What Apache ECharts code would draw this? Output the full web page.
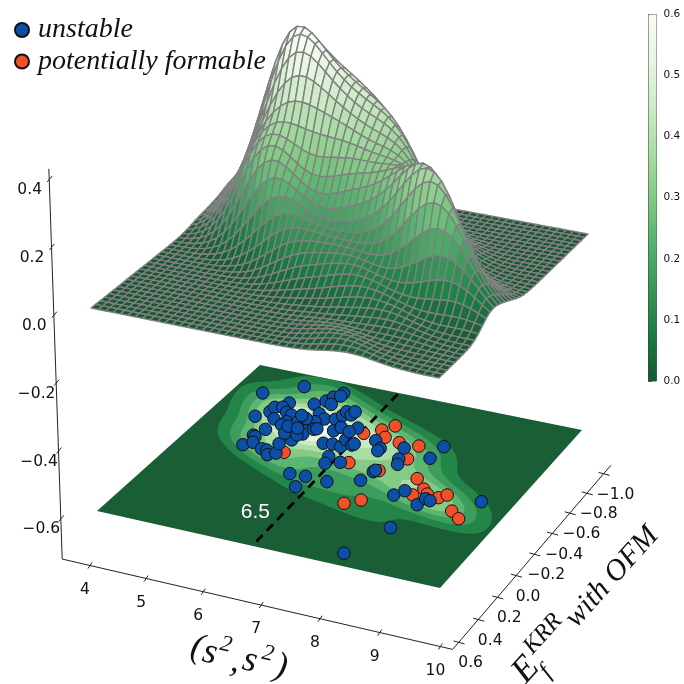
<!DOCTYPE html>
<html><head><meta charset="utf-8">
<script src="https://cdn.jsdelivr.net/npm/echarts@6/dist/echarts.min.js"></script>
<style>html,body{margin:0;background:#fff}#c{width:684px;height:684px}</style></head>
<body><div id="c"></div>
<script>
// Values: [x, y] in data units of the floor plane.
const unstable=[[4.42,-0.748],[4.95,-0.883],[4.69,-0.527],[4.84,-0.594],[4.84,-0.642],[4.99,-0.707],[4.96,-0.657],
[5.10,-0.620],[5.02,-0.538],[5.22,-0.604],[5.25,-0.536],[5.23,-0.499],[5.06,-0.431],[4.97,-0.360],
[5.02,-0.349],[4.97,-0.258],[5.08,-0.298],[5.31,-0.258],[5.41,-0.256],[5.49,-0.218],[5.59,-0.247],
[5.49,-0.332],[5.48,-0.447],[5.62,-0.387],[5.46,-0.491],[5.69,-0.459],[5.52,-0.558],[5.41,-0.433],
[5.62,-0.439],[5.39,-0.742],[5.52,-0.793],[5.57,-0.841],[5.66,-0.895],[5.66,-0.865],[5.65,-0.772],
[5.62,-0.667],[5.78,-0.629],[5.68,-0.589],[5.78,-0.519],[5.82,-0.530],[5.95,-0.647],[6.00,-0.692],
[6.00,-0.735],[6.10,-0.543],[6.16,-0.587],[6.14,-0.416],[6.29,-0.426],[6.45,-0.418],[6.42,-0.487],
[6.42,-0.314],[6.47,-0.249],[6.68,-0.284],[6.11,-0.100],[6.38,-0.105],[6.39,-0.002],[6.77,-0.099],
[6.12,-0.714],[6.13,-0.750],[6.42,-0.611],[6.35,-0.563],[6.59,-0.452],[6.61,-0.465],[7.24,-0.170],
[6.88,-0.533],[7.06,-0.475],[7.06,-0.450],[7.41,-0.521],[7.49,-0.417],[7.55,-0.369],[7.94,-0.479],
[7.98,-0.603],[7.30,-0.264],[7.31,-0.280],[7.93,-0.107],[8.03,-0.162],[8.40,-0.069],[8.44,-0.133],
[8.53,-0.124],[9.28,-0.206],[8.33,0.161],[8.02,0.440],
[5.35,-0.50],[5.42,-0.56],[5.50,-0.60],[5.38,-0.62],[5.52,-0.50]];
const formable=[[5.70,-0.268],[6.95,-0.697],[6.81,-0.637],[6.97,-0.579],[6.59,-0.575],[7.26,-0.558],[7.60,-0.564],
[7.62,-0.433],[6.81,-0.297],[7.37,-0.283],[8.04,-0.284],[8.28,-0.209],[8.40,-0.174],[8.20,-0.141],
[8.61,-0.164],[8.70,-0.201],[8.98,-0.078],[9.18,-0.028],[7.33,0.047],[7.53,-0.009]];
const xTicks=[4,5,6,7,8,9,10];
const yTicks=[0.6,0.4,0.2,0,-0.2,-0.4,-0.6,-0.8,-1.0];
const zTicks=[-0.6,-0.4,-0.2,0,0.2,0.4];
const contourLevels=[0.065,0.13,0.2,0.27,0.34,0.41,0.48,0.545];
const cutLabel='6.5';
const cutLine=[[6.63,0.50],[6.5,-1]];
const XR=[3.9,9.8],YR=[-1,0.54],FLOORZ=-0.6;

// The surface is a Gaussian KDE of the scatter points above, not a typed grid;
// bandwidth, amplitude and the class weight were tuned by eye to the reference surface.
const weightFormable=1.4;
const all=unstable.map(p=>[p[0],p[1],1]).concat(formable.map(p=>[p[0],p[1],weightFormable])),n=all.length;
const mx=all.reduce((s,p)=>s+p[0],0)/n,my=all.reduce((s,p)=>s+p[1],0)/n;
let cxx=0,cyy=0,cxy=0;all.forEach(p=>{cxx+=(p[0]-mx)**2;cyy+=(p[1]-my)**2;cxy+=(p[0]-mx)*(p[1]-my)});
cxx/=n-1;cyy/=n-1;cxy/=n-1;
const bw=0.98,amp=0.98,f2=Math.pow(n,-1/3)*bw*bw;
const sxx=cxx*f2,syy=cyy*f2,sxy=cxy*f2,det=sxx*syy-sxy*sxy;
const norm=amp/(2*Math.PI*Math.sqrt(det)*n);
function kde(x,y){let s=0;for(const p of all){const a=x-p[0],b=y-p[1];s+=p[2]*Math.exp(-0.5*(syy*a*a-2*sxy*a*b+sxx*b*b)/det)}return s*norm}

// Projection of the 3D box to the page
function homog(p){const [[x0,y0],[x1,y1],[x2,y2],[x3,y3]]=p;const dx1=x1-x2,dx2=x3-x2,sx=x0-x1+x2-x3,dy1=y1-y2,dy2=y3-y2,sy=y0-y1+y2-y3;const d=dx1*dy2-dx2*dy1;const g=(sx*dy2-dx2*sy)/d,h=(dx1*sy-sx*dy1)/d;return [x1-x0+g*x1,x3-x0+h*x3,x0,y1-y0+g*y1,y3-y0+h*y3,y0,g,h];}
const Hf=homog([[97,511],[440,588],[582,430],[260,365]]);
const Hs=homog([[91,308],[439,378],[588,234],[260,173]]);
function ap(H,u,v){const w=H[6]*u+H[7]*v+1;return [(H[0]*u+H[1]*v+H[2])/w,(H[3]*u+H[4]*v+H[5])/w]}
function project(x,y,z){const u=(x-XR[0])/(XR[1]-XR[0]),v=(YR[1]-y)/(YR[1]-YR[0]);const a=ap(Hf,u,v),b=ap(Hs,u,v),t=(z-FLOORZ)/(-FLOORZ);return [a[0]+(b[0]-a[0])*t,a[1]+(b[1]-a[1])*t]}

// Colour map
const stops=[[0,68,27],[0,109,44],[35,139,69],[65,171,93],[116,196,118],[161,217,155],[199,233,192],[229,245,224],[247,252,245]];
function cmap(v,alpha){let t=Math.max(0,Math.min(1,v/0.6))*8,i=Math.min(7,Math.floor(t)),f=t-i,a=alpha==null?0.9:alpha;
 const c=[0,1,2].map(k=>Math.round((stops[i][k]+(stops[i+1][k]-stops[i][k])*f)*a+255*(1-a)));return 'rgb('+c.join(',')+')'}

// Surface cells
const NX=46,NY=40,hs=[];
for(let i=0;i<=NX;i++){hs.push([]);for(let j=0;j<=NY;j++){const x=XR[0]+(XR[1]-XR[0])*i/NX,y=YR[0]+(YR[1]-YR[0])*j/NY;hs[i].push(kde(x,y))}}
const cells=[];for(let s=0;s<=NX+NY-2;s++)for(let i=0;i<NX;i++){const j=s-i;if(j>=0&&j<NY)cells.push([i,j])}
function cellCorner(i,j){return project(XR[0]+(XR[1]-XR[0])*i/NX,YR[0]+(YR[1]-YR[0])*j/NY,hs[i][j])}

// Filled contours on the floor
const NC=130,hc=[];
for(let i=0;i<=NC;i++){hc.push([]);for(let j=0;j<=NC;j++){hc[i].push(kde(XR[0]+(XR[1]-XR[0])*i/NC,YR[0]+(YR[1]-YR[0])*j/NC))}}
function bandPath(level){let d='';
 for(let i=0;i<NC;i++)for(let j=0;j<NC;j++){
  const q=[[i,j,hc[i][j]],[i+1,j,hc[i+1][j]],[i+1,j+1,hc[i+1][j+1]],[i,j+1,hc[i][j+1]]];
  if(q.every(c=>c[2]<level))continue;
  const pts=[];
  for(let k=0;k<4;k++){const a=q[k],b=q[(k+1)%4];
   if(a[2]>=level)pts.push([a[0],a[1]]);
   if((a[2]>=level)!==(b[2]>=level)){const t=(level-a[2])/(b[2]-a[2]);pts.push([a[0]+(b[0]-a[0])*t,a[1]+(b[1]-a[1])*t])}}
  pts.forEach((p,m)=>{const s=project(XR[0]+(XR[1]-XR[0])*p[0]/NC,YR[0]+(YR[1]-YR[0])*p[1]/NC,FLOORZ);d+=(m?'L':'M')+s[0].toFixed(2)+' '+s[1].toFixed(2)});
  d+='Z';
 }return d}
const bandColors=contourLevels.map((l,i)=>cmap(l+0.035));

const cBlue='#0b4fa6',cRed='#f2502a',axisCol='#222';
function fmt(v,d){return (v<0?'\u2212':'')+Math.abs(v).toFixed(d)}
function axesChildren(api){
 const c=[];
 const seg=(a,b,w)=>{const p=api.coord(a),q=api.coord(b);c.push({type:'line',shape:{x1:p[0],y1:p[1],x2:q[0],y2:q[1]},style:{stroke:axisCol,lineWidth:w||1}})};
 const txt=(s,pos,font)=>{const p=api.coord(pos);c.push({type:'text',style:{text:s,x:p[0],y:p[1],align:'center',verticalAlign:'middle',fill:'#111',font:font||'15.5px "DejaVu Sans"'}})};
 const X0=3.5,X1=10.2,Y0=0.66,Y1=-1.09,Z0=-0.72,Z1=0.43;
 seg(project(X0,Y0,Z0),project(X1,Y0,Z0));
 seg(project(X1,Y0,Z0),project(X1,Y1,Z0));
 seg(project(X0,Y0,Z0),project(X0,Y0,Z1));
 xTicks.forEach(t=>{const p=project(t,Y0,Z0);seg([p[0]-2,p[1]+3],[p[0]+2,p[1]-3]);txt(String(t),[p[0]-5,p[1]+24])});
 yTicks.forEach(t=>{const p=project(X1,t,Z0);seg([p[0]-5,p[1]-1.5],[p[0]+6,p[1]+1.5]);txt(fmt(t,1),[p[0]+12,p[1]+21])});
 zTicks.forEach(t=>{const p=project(X0,Y0,t);seg([p[0]-2,p[1]+3],[p[0]+3,p[1]-3]);txt(fmt(t,1),[p[0]-19.5,p[1]+11])});
 return c;
}
const titleFont=s=>'italic '+s+'px "Liberation Serif"';
function rotText(api,s,pos,size,deg){const p=api.coord(pos);return {type:'text',x:p[0],y:p[1],rotation:deg*Math.PI/180,style:{text:s,align:'center',verticalAlign:'middle',fill:'#111',font:titleFont(size)}}}

const chart=echarts.init(document.getElementById('c'),null,{renderer:'canvas'});
const gradStops=[];for(let i=0;i<=24;i++)gradStops.push({offset:i/24,color:cmap(0.6*(1-i/24))});
chart.setOption({
 animation:false,backgroundColor:'#fff',
 grid:[{left:0,top:0,width:684,height:684,show:false},{left:648.5,top:14.5,width:8,height:366.5,show:true,backgroundColor:'transparent',borderColor:'#333',borderWidth:0.8}],
 xAxis:[{type:'value',min:0,max:684,show:false,gridIndex:0},{type:'value',min:0,max:1,show:false,gridIndex:1}],
 yAxis:[{type:'value',min:0,max:684,inverse:true,show:false,gridIndex:0},
  {type:'value',min:0,max:0.6,interval:0.1,gridIndex:1,position:'right',splitLine:{show:false},
   axisLine:{show:true,lineStyle:{color:'#333',width:0.8}},axisTick:{show:true,length:3.5,lineStyle:{color:'#333',width:0.8}},
   axisLabel:{margin:7,color:'#111',fontSize:10.5,fontFamily:'DejaVu Sans',formatter:v=>v.toFixed(1)}}],
 legend:{left:14,top:16,padding:0,orient:'vertical',icon:'circle',itemWidth:14,itemHeight:14,itemGap:3.5,
  textStyle:{fontFamily:'Liberation Serif',fontStyle:'italic',fontSize:28,color:'#111',padding:[0,0,0,4]},
  data:['unstable','potentially formable']},
 series:[
  {type:'custom',name:'axes',coordinateSystem:'cartesian2d',silent:true,data:[[0]],z:1,clip:false,
   renderItem:(p,api)=>({type:'group',children:axesChildren(api)})},
  {type:'custom',name:'floor',coordinateSystem:'cartesian2d',silent:true,data:[[0]],z:2,clip:false,
   renderItem:(p,api)=>{
    const corners=[[XR[0],YR[1]],[XR[1],YR[1]],[XR[1],YR[0]],[XR[0],YR[0]]].map(c=>api.coord(project(c[0],c[1],FLOORZ)));
    return {type:'polygon',shape:{points:corners},style:{fill:cmap(0.015)}}}},
  {type:'custom',name:'contours',coordinateSystem:'cartesian2d',silent:true,z:3,clip:false,progressive:0,
   data:contourLevels.map((l,i)=>[i,l]),
   renderItem:(p,api)=>{const i=api.value(0);return {type:'path',shape:{pathData:bandPath(api.value(1))},style:{fill:bandColors[i]}}}},
  {type:'custom',name:'cut',coordinateSystem:'cartesian2d',silent:true,data:cutLine.map(c=>c.slice()),z:4,clip:false,
   renderItem:(p,api)=>{ if(p.dataIndex!==0)return null;
    const a=api.coord(project(cutLine[0][0],cutLine[0][1],FLOORZ)),b=api.coord(project(cutLine[1][0],cutLine[1][1],FLOORZ));
    return {type:'group',children:[
     {type:'line',shape:{x1:a[0],y1:a[1],x2:b[0],y2:b[1]},style:{stroke:'#000',lineWidth:2.8,lineDash:[9,6]}},
     {type:'text',style:{text:cutLabel,x:a[0]-1,y:a[1]-29,align:'center',verticalAlign:'middle',fill:'#fff',font:'21px "Liberation Sans"'}}]}}},
  {type:'custom',name:'surface',coordinateSystem:'cartesian2d',silent:true,z:5,clip:false,progressive:0,
   data:cells,
   renderItem:(p,api)=>{const i=api.value(0),j=api.value(1);
    const pts=[cellCorner(i,j),cellCorner(i+1,j),cellCorner(i+1,j+1),cellCorner(i,j+1)].map(q=>api.coord(q));
    const m=(hs[i][j]+hs[i+1][j]+hs[i+1][j+1]+hs[i][j+1])/4;
    return {type:'polygon',shape:{points:pts},style:{fill:cmap(m),stroke:'#808080',lineWidth:1.4,lineJoin:'round'}}}},
  {type:'scatter',name:'potentially formable',coordinateSystem:'cartesian2d',symbolSize:12.5,z:6,clip:false,silent:true,
   data:formable.map(d=>project(d[0],d[1],FLOORZ)),itemStyle:{color:cRed,borderColor:'#111',borderWidth:1,opacity:1}},
  {type:'scatter',name:'unstable',coordinateSystem:'cartesian2d',symbolSize:12.5,z:7,clip:false,silent:true,
   data:unstable.map(d=>project(d[0],d[1],FLOORZ)),itemStyle:{color:cBlue,borderColor:'#111',borderWidth:1,opacity:1}},
  {type:'custom',name:'titles',coordinateSystem:'cartesian2d',silent:true,data:[[0]],z:8,clip:false,
   renderItem:(p,api)=>({type:'group',children:[
    rotText(api,'(',[197,648],36,-13),rotText(api,'s',[210,653],36,-13),rotText(api,'2',[226,645],23,-13),
    rotText(api,',',[236,662],36,-13),rotText(api,'s',[250,661],36,-13),rotText(api,'2',[268,654],23,-13),rotText(api,')',[281,667],36,-13),
    rotText(api,'E',[526,670],36,48),rotText(api,'f',[546,672],24,48),rotText(api,'KRR',[543,634],24,48),
    rotText(api,'with OFM',[612,577],30,48)]})},
  {type:'custom',name:'colorbar',coordinateSystem:'cartesian2d',xAxisIndex:1,yAxisIndex:1,silent:true,data:[[0]],z:9,
   renderItem:(p,api)=>{const a=api.coord([0,0.6]),b=api.coord([1,0]);
    return {type:'rect',shape:{x:a[0],y:a[1],width:b[0]-a[0],height:b[1]-a[1]},
     style:{fill:new echarts.graphic.LinearGradient(0,0,0,1,gradStops)}}}}
 ]
});
</script></body></html>
